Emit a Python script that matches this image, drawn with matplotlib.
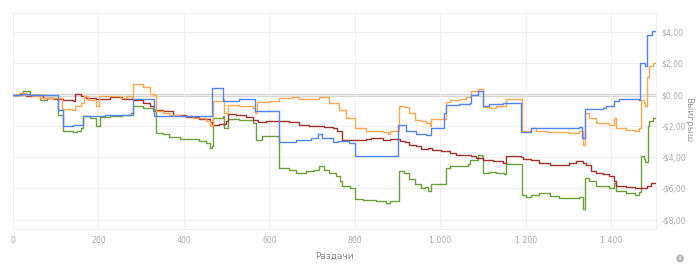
import numpy as np
import matplotlib
matplotlib.use("Agg")
import matplotlib.pyplot as plt
from matplotlib.ticker import FuncFormatter
from matplotlib.patches import Ellipse

# hands played (x) and cumulative winnings in $ (y), breakpoints of step lines
blue_x = [0, 20, 40, 60, 106, 116, 141, 163, 215, 277, 281, 331, 465, 492, 530, 567, 622,
          662, 697, 715, 724, 748, 760, 787, 800, 850, 901, 920, 944, 967, 979, 1010, 1014,
          1045, 1069, 1071, 1088, 1100, 1115, 1147, 1190, 1213, 1326, 1331, 1339, 1380, 1388,
          1408, 1419, 1466, 1468, 1480, 1484, 1497, 1503]
blue_y = [0.0, 0.05, -0.05, 0.0, -0.98, -2.04, -1.95, -1.4, -1.3, -1.19, -0.3, -1.4, 0.42, -0.38,
          -0.3, -1.04, -3.06, -2.93, -2.78, -2.5, -2.78, -3.06, -2.95, -3.1, -3.9, -3.95, -1.95,
          -2.36, -2.5, -2.6, -2.14, -1.19, -0.66, -0.6, -0.51, -0.04, 0.25, -0.72, -0.62, -0.55,
          -2.42, -2.14, -2.08, -2.78, -0.93, -0.87, -0.76, -0.38, -0.3, -0.34, 2.04, 1.8, 3.82,
          4.08, 4.08]

orange_x = [0, 15, 30, 45, 63, 87, 114, 137, 145, 160, 165, 176, 195, 201, 226, 250, 265, 279,
            281, 304, 320, 331, 335, 350, 366, 390, 421, 452, 460, 465, 468, 492, 495, 503, 530,
            561, 567, 570, 600, 623, 654, 670, 685, 716, 740, 763, 779, 800, 827, 866, 878, 882,
            904, 915, 928, 940, 956, 967, 975, 979, 1013, 1022, 1045, 1061, 1073, 1088, 1100,
            1115, 1131, 1150, 1154, 1192, 1213, 1225, 1250, 1302, 1326, 1334, 1338, 1349, 1365,
            1396, 1408, 1412, 1435, 1455, 1466, 1470, 1476, 1480, 1484, 1489, 1498, 1503]
orange_y = [0.0, 0.08, -0.05, -0.1, -0.2, -0.23, -0.9, -0.98, -0.76, -0.55, -0.1, -0.34, -0.76,
            -0.08, -0.12, -0.25, -0.12, -0.23, 0.68, 0.5, 0.04, -0.02, -1.08, -1.19, -1.3,
            -1.4, -1.5, -1.72, -2.0, -1.93, -0.38, -0.3, -1.19, -0.66, -0.76, -0.87, -1.15,
            -0.45, -0.38, -0.23, -0.17, -0.3, -0.26, -0.17, -0.55, -0.98, -1.5, -2.14, -2.3,
            -2.4, -2.5, -2.3, -0.72, -0.8, -1.15, -1.6, -1.72, -1.83, -2.0, -1.57, -0.45, -0.34,
            -0.26, -0.17, 0.25, 0.34, -0.8, -0.85, -0.72, -0.76, -0.3, -2.36, -2.14, -2.3,
            -2.4, -2.46, -2.36, -3.2, -1.19, -1.5, -1.83, -1.93, -1.5, -2.14, -2.25, -2.36,
            -2.14, -0.34, -0.55, -0.72, 1.15, 1.8, 2.04, 2.04]

red_x = [0, 15, 30, 45, 71, 95, 117, 141, 144, 160, 170, 195, 226, 254, 281, 304, 320, 331,
         350, 374, 405, 436, 460, 465, 483, 499, 503, 522, 545, 561, 573, 592, 623, 647, 670,
         693, 728, 748, 759, 771, 800, 827, 839, 866, 882, 905, 917, 928, 944, 956, 971, 982,
         1001, 1022, 1037, 1061, 1073, 1084, 1100, 1123, 1147, 1154, 1170, 1190, 1194, 1213,
         1232, 1256, 1279, 1302, 1318, 1334, 1341, 1353, 1365, 1380, 1396, 1408, 1412, 1435,
         1455, 1466, 1477, 1485, 1493, 1503]
red_y = [0.0, 0.05, -0.1, -0.05, -0.2, -0.27, -0.34, -0.38, 0.04, -0.12, -0.2, -0.27, -0.17,
         -0.3, -0.34, -0.55, -0.76, -0.98, -1.08, -1.3, -1.44, -1.57, -1.78, -1.93, -1.87,
         -1.7, -1.23, -1.3, -1.44, -1.6, -1.78, -1.72, -1.66, -1.78, -1.93, -2.0, -2.08, -2.15,
         -2.36, -2.9, -2.9, -2.85, -2.8, -2.9, -2.85, -2.99, -3.06, -3.2, -3.3, -3.48, -3.42,
         -3.57, -3.63, -3.74, -3.84, -3.87, -3.9, -4.05, -4.16, -4.27, -4.37, -3.95, -3.91,
         -4.0, -4.1, -4.2, -4.37, -4.48, -4.48, -4.37, -4.27, -4.37, -4.48, -4.9, -5.0, -5.1,
         -5.2, -5.54, -5.82, -5.92, -6.0, -5.95, -6.0, -5.86, -5.65, -5.65]

green_x = [0, 15, 24, 40, 63, 80, 102, 106, 116, 141, 150, 160, 164, 180, 195, 203, 226, 254,
           279, 282, 304, 327, 335, 350, 366, 392, 405, 436, 452, 460, 465, 468, 491, 495, 503,
           530, 561, 569, 584, 622, 623, 647, 662, 685, 705, 716, 728, 740, 755, 765, 771, 790,
           800, 820, 850, 874, 882, 904, 915, 928, 940, 956, 964, 971, 979, 1013, 1022, 1045,
           1065, 1069, 1088, 1098, 1100, 1115, 1131, 1150, 1154, 1192, 1201, 1213, 1232, 1256,
           1279, 1302, 1326, 1334, 1338, 1349, 1365, 1396, 1408, 1412, 1435, 1455, 1466, 1470,
           1476, 1480, 1486, 1489, 1498, 1503]
green_y = [0.0, 0.1, 0.25, 0.0, -0.34, -0.25, -0.3, -1.3, -2.36, -2.4, -2.3, -2.14, -1.4, -1.5,
           -2.04, -1.44, -1.4, -1.3, -1.3, -0.72, -0.85, -1.08, -2.46, -2.55, -2.72, -2.85,
           -2.82, -3.0, -3.1, -3.42, -3.32, -1.5, -1.4, -2.14, -1.57, -1.6, -1.83, -2.9, -2.67,
           -2.7, -4.7, -4.85, -5.0, -4.9, -4.82, -4.6, -4.8, -5.0, -5.2, -5.5, -5.86, -5.97,
           -6.7, -6.72, -6.8, -6.96, -6.8, -4.9, -5.0, -5.43, -5.75, -5.97, -5.9, -6.18, -5.75,
           -4.7, -4.6, -4.55, -4.47, -4.2, -3.86, -3.95, -5.0, -4.95, -5.0, -5.05, -4.44,
           -6.4, -6.56, -6.4, -6.3, -6.5, -6.6, -6.62, -6.52, -7.35, -5.33, -5.55, -5.86, -6.0,
           -5.65, -6.18, -6.3, -6.43, -6.25, -3.95, -4.1, -4.3, -2.04, -1.72, -1.5, -1.5]

series = [
    (green_x, green_y, "#6f9f3c"),
    (red_x, red_y, "#a5302c"),
    (orange_x, orange_y, "#ffa851"),
    (blue_x, blue_y, "#5284f5"),
]

fig = plt.figure(figsize=(7, 2.66), dpi=100)
ax = fig.add_axes([0.0186, 0.139, 0.9184, 0.811])

ax.axhline(0, color="#c8c8c8", lw=1.8, zorder=1)
for xs, ys, col in series:
    ax.plot(xs, ys, drawstyle="steps-post", color=col, lw=1.0, zorder=3)

ax.set_xlim(0, 1505)
ax.set_ylim(-8.6, 5.2)
ax.set_xticks([0, 200, 400, 600, 800, 1000, 1200, 1400])
ax.set_yticks([-8, -6, -4, -2, 0, 2, 4])
ax.xaxis.set_major_formatter(FuncFormatter(lambda v, p: "{:,}".format(int(v)).replace(",", " ")))


def money(v, p):
    s = "${:.2f}".format(abs(v)).replace(".", ",")
    return ("-" + s) if v < -1e-9 else s


ax.yaxis.set_major_formatter(FuncFormatter(money))
ax.yaxis.tick_right()
ax.tick_params(axis="both", length=0, labelsize=5.6, colors="#aaaaaa")
ax.tick_params(axis="y", pad=4)
ax.tick_params(axis="x", pad=5)
ax.grid(True, color="#efefef", lw=0.8, zorder=0)
for sp in ax.spines.values():
    sp.set_color("#efefef")
    sp.set_linewidth(0.8)

ax.set_xlabel("Раздачи", fontsize=6.5, color="#888888", labelpad=5)
fig.text(0.984, 0.55, "Выигрыш", rotation=-90, fontsize=6.5, color="#999999",
         ha="center", va="center")

# small info icon in the corner
fig.patches.append(Ellipse((0.9715, 0.028), 0.011, 0.011 * 700 / 266,
                           transform=fig.transFigure, facecolor="#b5b5b5", edgecolor="none"))
fig.text(0.9715, 0.027, "i", fontsize=4.5, color="white", ha="center", va="center",
         weight="bold")

fig.savefig("out.png", dpi=100, facecolor="white")
